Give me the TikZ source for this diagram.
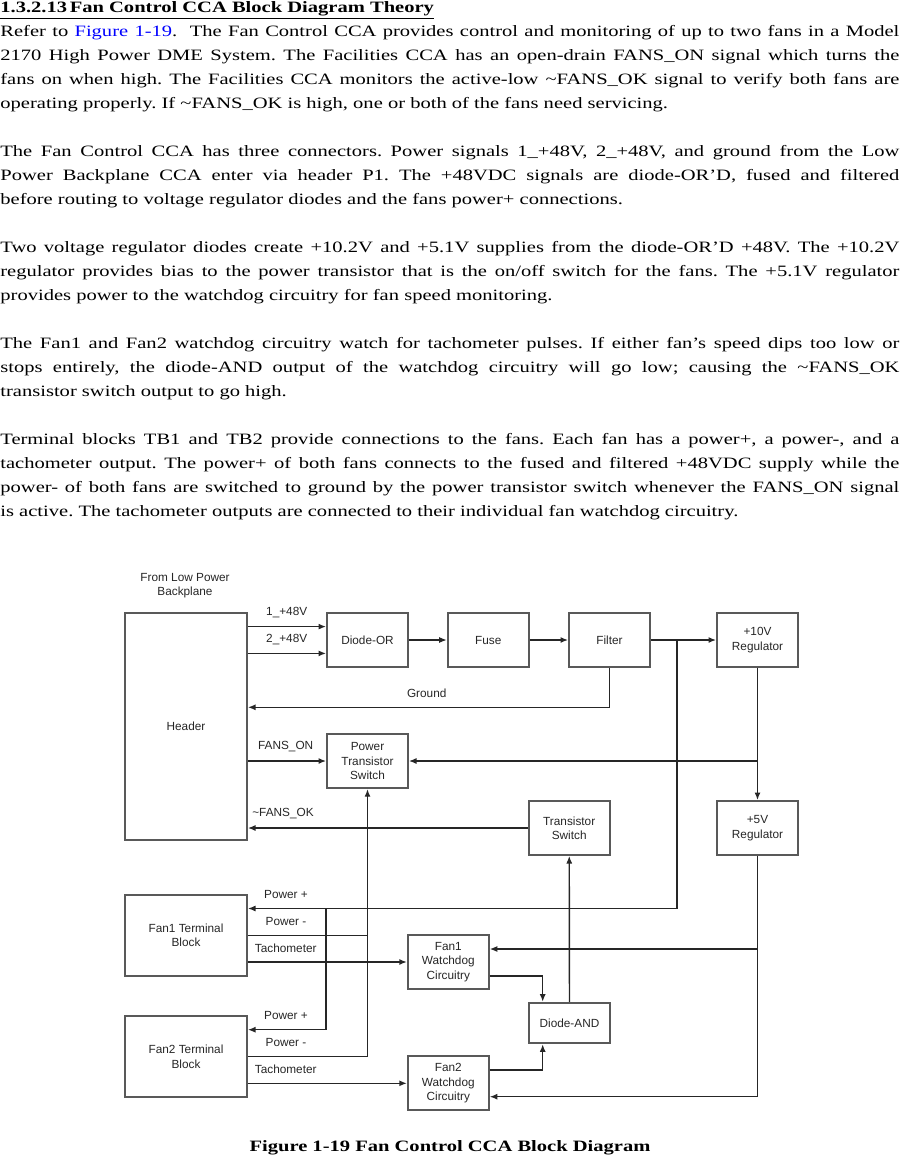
\documentclass[tikz,border=0pt]{standalone}
\usepackage{fontspec}
\usepackage{xcolor}
\setmainfont{Liberation Serif}[FakeStretch=1.3]
\newfontfamily\diagfont{Liberation Sans}
\usetikzlibrary{arrows.meta,calc}
\newcommand{\diagsize}{\diagfont\fontsize{5.9pt}{7.2pt}\selectfont}
\frenchspacing

\begin{document}
\begin{tikzpicture}[x=0.5pt, y=-0.5pt]
\tikzstyle{block} = [rectangle, draw=black!65, line width=0.9pt, minimum width=40.5pt, minimum height=26.7pt, inner sep=1pt, align=center, text=black!85, font=\diagsize]
\tikzstyle{tblock} = [block, minimum width=61pt, minimum height=40.5pt]
\tikzstyle{lbl} = [inner sep=0pt, align=center, text=black!85, font=\diagsize]
\tikzstyle{wire} = [line width=0.7pt, draw=black!85]
\tikzstyle{arrow} = [wire, -{Latex[length=3.8pt,width=3pt]}]

\useasboundingbox (0,0) rectangle (899,1160);

% page text
\node (theory) [anchor=base west, inner sep=0pt, text width=449.5pt, align=justify, font=\fontsize{7.9pt}{12pt}\selectfont] at (0,12.5) {%
\setlength{\parskip}{12pt}%
\textbf{\underline{1.3.2.13\,Fan Control CCA Block Diagram Theory}}\\
Refer to \textcolor{blue}{Figure 1-19}.\ \ The Fan Control CCA provides control and monitoring of up to two fans in a Model\linebreak
2170 High Power DME System. The Facilities CCA has an open-drain FANS\_ON signal which turns the\linebreak
fans on when high. The Facilities CCA monitors the active-low \textasciitilde FANS\_OK signal to verify both fans are\linebreak
operating properly. If \textasciitilde FANS\_OK is high, one or both of the fans need servicing.\par
The Fan Control CCA has three connectors. Power signals 1\_+48V, 2\_+48V, and ground from the Low\linebreak
Power Backplane CCA enter via header P1. The +48VDC signals are diode-OR’D, fused and filtered\linebreak
before routing to voltage regulator diodes and the fans power+ connections.\par
Two voltage regulator diodes create +10.2V and +5.1V supplies from the diode-OR’D +48V. The +10.2V\linebreak
regulator provides bias to the power transistor that is the on/off switch for the fans. The +5.1V regulator\linebreak
provides power to the watchdog circuitry for fan speed monitoring.\par
The Fan1 and Fan2 watchdog circuitry watch for tachometer pulses. If either fan’s speed dips too low or\linebreak
stops entirely, the diode-AND output of the watchdog circuitry will go low; causing the \textasciitilde FANS\_OK\linebreak
transistor switch output to go high.\par
Terminal blocks TB1 and TB2 provide connections to the fans. Each fan has a power+, a power-, and a\linebreak
tachometer output. The power+ of both fans connects to the fused and filtered +48VDC supply while the\linebreak
power- of both fans are switched to ground by the power transistor switch whenever the FANS\_ON signal\linebreak
is active. The tachometer outputs are connected to their individual fan watchdog circuitry.};

% blocks
\node (hdr) [block, minimum width=61pt, minimum height=113.6pt] at (186,726.4) {Header};
\node (src) [lbl] at (185,585.5) {From Low Power\\Backplane};
\node (dor) [block] at (367.5,640) {Diode-OR};
\node (fuse) [block] at (488.2,640) {Fuse};
\node (filt) [block] at (609.5,640) {Filter};
\node (reg10) [block] at (757.5,640) {+10V\\Regulator};
\node (pts) [block, minimum height=27.2pt] at (367.5,761) {Power\\Transistor\\Switch};
\node (tsw) [block, minimum height=27pt] at (569.2,828) {Transistor\\Switch};
\node (reg5) [block, minimum height=27pt] at (757.5,828) {+5V\\Regulator};
\node (fb1) [tblock] at (186,935.5) {Fan1 Terminal\\Block};
\node (fb2) [tblock] at (186,1056.7) {Fan2 Terminal\\Block};
\node (wd1) [block, minimum height=27pt] at (448.3,962) {Fan1\\Watchdog\\Circuitry};
\node (wd2) [block, minimum height=27pt] at (448.3,1083.3) {Fan2\\Watchdog\\Circuitry};
\node (dand) [block, minimum height=20.3pt] at (569.5,1023) {Diode-AND};
\coordinate (pwr) at ($(filt.east)!0.4!(reg10.west)$);

% supply path
\draw [arrow] ([yshift=6.7pt]dor.west -| hdr.east) -- ([yshift=6.7pt]dor.west);
\draw [arrow] ([yshift=-6.7pt]dor.west -| hdr.east) -- ([yshift=-6.7pt]dor.west);
\draw [arrow] (dor) -- (fuse);
\draw [arrow] (fuse) -- (filt);
\draw [arrow] (filt) -- (reg10);
\draw [arrow] (filt.south) |- ([yshift=9.55pt]hdr.east);
\draw [arrow] (pts.west -| hdr.east) -- (pts.west);
\draw [arrow] (reg10) -- (reg5);
\draw [arrow] (pts.east -| reg10.south) -- (pts.east);
\draw [arrow] (tsw.west) -- (tsw.west -| hdr.east);

% fan wiring
\draw [arrow] (pwr) |- ([yshift=13.5pt]fb1.east);
\draw [arrow] ([yshift=13.5pt]fb1.east -| dor.west) |- ([yshift=13.5pt]fb2.east);
\draw [wire] (fb1.east) -- (fb1.east -| pts.south);
\draw [arrow] (fb2.east) -| (pts.south);
\draw [arrow] (wd1.west -| fb1.east) -- (wd1.west);
\draw [arrow] (wd2.west -| fb2.east) -- (wd2.west);

% watchdog logic
\draw [arrow] ([yshift=-7pt]wd1.east) -| ([xshift=-13.4pt]dand.north);
\draw [arrow] ([yshift=6.65pt]wd2.east) -| ([xshift=-13.4pt]dand.south);
\draw [arrow] (dand) -- (tsw);
\draw [arrow] (reg5.south) |- ([yshift=-6.7pt]wd2.east);
\draw [arrow] ([yshift=6.5pt]wd1.east -| reg5.south) -- ([yshift=6.5pt]wd1.east);

% signal labels
\node (l48a) [lbl] at (286.7,613) {1\_+48V};
\node (l48b) [lbl] at (286.7,640) {2\_+48V};
\node (lgnd) [lbl] at (426.7,693.3) {Ground};
\node (lon) [lbl] at (285.7,746.7) {FANS\_ON};
\node (lok) [lbl] at (283,814) {\textasciitilde FANS\_OK};
\node (lp1) [lbl] at (286,894.3) {Power +};
\node (lm1) [lbl] at (286,921.7) {Power -};
\node (lt1) [lbl] at (285.7,948.3) {Tachometer};
\node (lp2) [lbl] at (286,1015) {Power +};
\node (lm2) [lbl] at (286,1042.3) {Power -};
\node (lt2) [lbl] at (285.7,1069.3) {Tachometer};

% caption
\node (cap) [inner sep=0pt, font=\fontsize{7.9pt}{12pt}\selectfont\bfseries] at (450,1148) {Figure 1-19 Fan Control CCA Block Diagram};
\end{tikzpicture}
\end{document}
